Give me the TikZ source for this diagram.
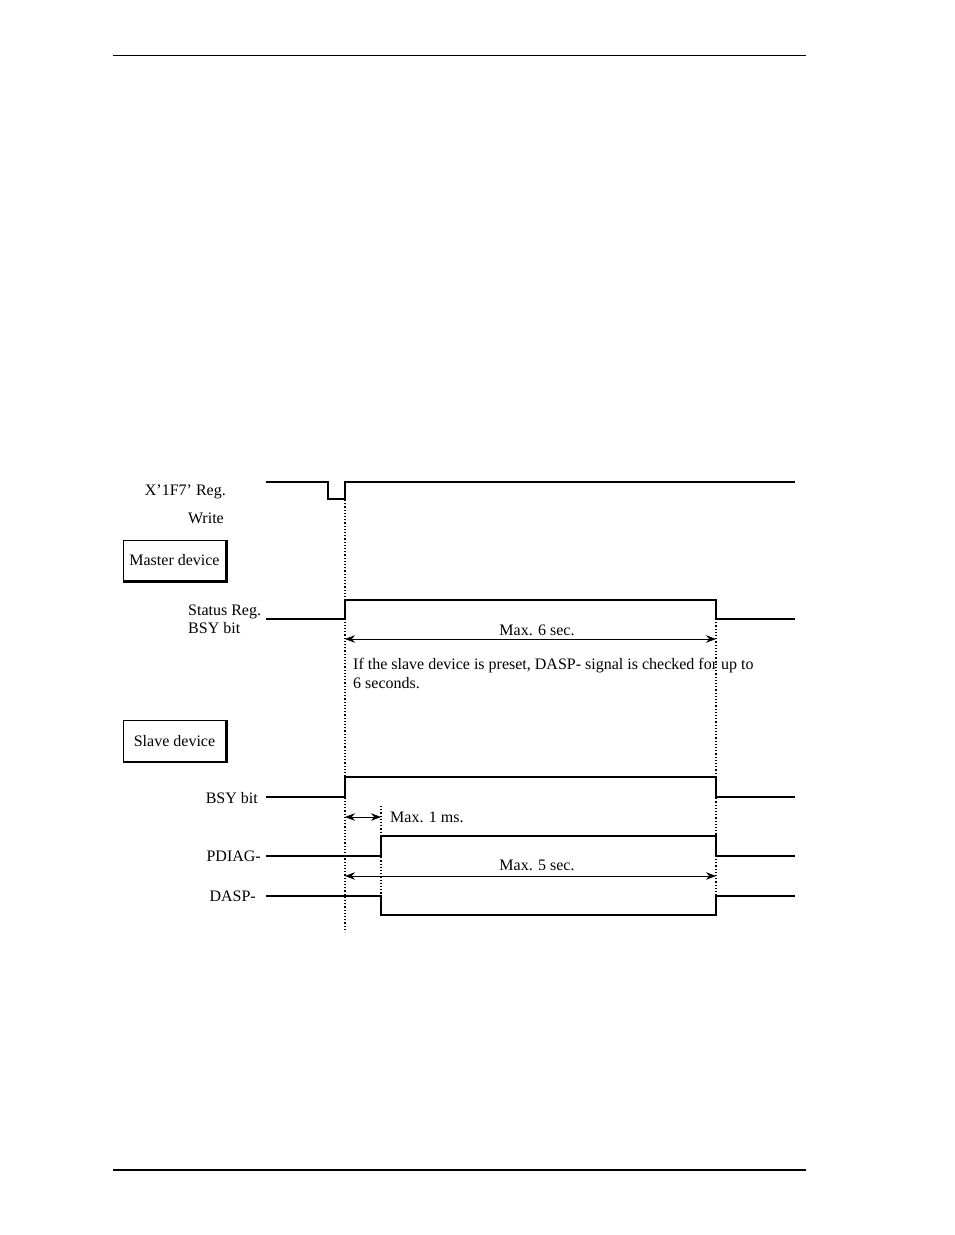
\documentclass[tikz,border=0pt]{standalone}
\usepackage{fontspec}
\setmainfont{Liberation Serif}
\usetikzlibrary{arrows.meta}
\begin{document}
\begin{tikzpicture}[x=1pt,y=-1pt,
    sig/.style={line width=1.8pt},
    guide/.style={dotted, line width=1.2pt},
    dim/.style={{Stealth[length=10pt]}-{Stealth[length=10pt]}, line width=0.7pt},
    lbl/.style={font=\fontsize{16}{17}\selectfont, inner sep=0pt},
    devbox/.style={draw, line width=0.8pt, minimum width=103pt, minimum height=41pt, font=\fontsize{16}{17}\selectfont}]
  \useasboundingbox (0,0) rectangle (954,1235);
  % page rules
  \draw[line width=0.8pt] (113,55) -- (806,55);
  \draw[line width=1.8pt] (113,1170) -- (806,1170);
  % write strobe
  \draw[sig] (266,482) -- (328,482) -- (328,499) -- (345,499) -- (345,482) -- (795,482);
  \node[lbl, anchor=east] (wreg) at (226,492) {X{\char39}1F7{\char39} Reg.};
  \node[lbl, anchor=east] (wlbl) at (224,518) {Write};
  % master
  \node[devbox] (master) at (174.5,560.5) {Master device};
  \draw[line width=2.2pt] (master.north east) -- (master.south east) -- (master.south west);
  \draw[sig] (266,619) -- (345,619) -- (345,600) -- (716,600) -- (716,619) -- (795,619);
  \node[lbl, anchor=west] (sreg) at (188,612) {Status Reg.};
  \node[lbl, anchor=west] (sbsy) at (188,628) {BSY bit};
  \coordinate (a6l) at (345,639);
  \coordinate (a6r) at (716,639);
  \draw[dim] (a6l) -- (a6r);
  \node[lbl] (m6) at (537,630) {Max. 6 sec.};
  \node[lbl, anchor=west] (note1) at (353,666) {If the slave device is preset, DASP- signal is checked for up to};
  \node[lbl, anchor=west] (note2) at (353,683) {6 seconds.};
  % slave
  \node[devbox] (slave) at (174.5,741) {Slave device};
  \draw[line width=2.2pt] (slave.north east) -- (slave.south east) -- (slave.south west);
  \draw[sig] (266,797) -- (345,797) -- (345,777) -- (716,777) -- (716,797) -- (795,797);
  \node[lbl, anchor=east] (bsy) at (258,798) {BSY bit};
  \coordinate (a1l) at (345,817);
  \coordinate (a1r) at (381,817);
  \draw[dim] (a1l) -- (a1r);
  \node[lbl, anchor=west] (m1) at (390,817) {Max. 1 ms.};
  \draw[sig] (266,856) -- (381,856) -- (381,836) -- (716,836) -- (716,856) -- (795,856);
  \node[lbl, anchor=east] (pdiag) at (261,856) {PDIAG-};
  \coordinate (a5l) at (345,876);
  \coordinate (a5r) at (716,876);
  \draw[dim] (a5l) -- (a5r);
  \node[lbl] (m5) at (537,865) {Max. 5 sec.};
  \draw[sig] (266,896) -- (381,896) -- (381,915) -- (716,915) -- (716,896) -- (795,896);
  \node[lbl, anchor=east] (dasp) at (256,896) {DASP-};
  % timing guides
  \draw[guide] (345,484) -- (345,932);
  \draw[guide] (381,806) -- (381,915);
  \draw[guide] (716,619) -- (716,898);
\end{tikzpicture}
\end{document}
